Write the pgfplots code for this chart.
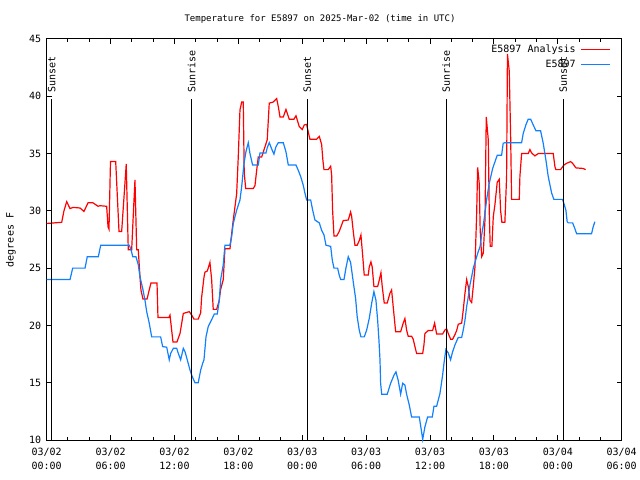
\documentclass[border=0pt]{standalone}
\usepackage{fontspec}
\setmainfont{DejaVu Sans Mono}
\usepackage{pgfplots}
\pgfplotsset{compat=1.18}
\definecolor{anared}{RGB}{255,0,0}
\definecolor{obsblue}{RGB}{16,128,255}

\begin{document}
\fontsize{10bp}{12bp}\selectfont
\begin{tikzpicture}
\useasboundingbox (0,0) rectangle (640bp,480bp);
\begin{axis}[
    at={(46.7bp,40bp)}, anchor=south west,
    scale only axis, width=575bp, height=401bp,
    xmin=0, xmax=54, ymin=10, ymax=45,
    xtick={0,6,...,54},
    minor x tick num=2,
    ytick={10,15,...,45},
    xticklabels={{03/02\\00:00},{03/02\\06:00},{03/02\\12:00},{03/02\\18:00},{03/03\\00:00},{03/03\\06:00},{03/03\\12:00},{03/03\\18:00},{03/04\\00:00},{03/04\\06:00}},
    xticklabel style={align=center, font=\fontsize{10bp}{14bp}\selectfont, yshift=-5bp},
    yticklabel style={font=\fontsize{10bp}{12bp}\selectfont, xshift=-2bp},
    /pgf/number format/assume math mode=true,
    axis line style={line width=1bp, black},
    tick style={line width=1bp, black},
    major tick length=5bp, minor tick length=3bp,
    legend style={draw=none, fill=none, at={(rel axis cs:0.9815,0.99)}, anchor=north east,
        legend cell align=right, font=\fontsize{10bp}{12bp}\selectfont,
        row sep=2bp, column sep=3bp, inner sep=0pt},
    legend plot pos=right,
    legend image code/.code={\draw[#1] (0bp,0bp) -- (29bp,0bp);},
    clip=false,
]
% analysis (red)
\addplot[anared, line width=1.2bp] coordinates {
(0.00,28.9) (1.41,29.0) (1.62,30.0) (1.88,30.8) (2.19,30.2) (2.47,30.3) (3.13,30.25) (3.50,29.95)
(3.88,30.7) (4.35,30.7) (4.82,30.4) (5.00,30.45) (5.63,30.4) (5.76,28.6) (5.85,28.4) (5.99,34.3)
(6.48,34.3) (6.79,28.2) (7.04,28.2) (7.42,33.4) (7.47,34.1) (7.66,26.6) (7.98,26.6) (8.15,30.0)
(8.29,32.7) (8.45,26.6) (8.60,26.6) (8.76,24.25) (8.85,23.1) (9.04,22.3) (9.42,22.3) (9.79,23.7)
(10.36,23.7) (10.45,20.7) (11.48,20.7) (11.58,20.9) (11.86,18.55) (12.23,18.55) (12.52,19.3) (12.83,21.05)
(13.39,21.2) (13.62,20.9) (13.83,20.55) (14.23,20.55) (14.46,21.1) (14.55,22.45) (14.77,24.2) (14.86,24.65)
(15.08,24.75) (15.33,25.5) (15.49,24.0) (15.64,21.4) (15.96,21.4) (16.18,22.1) (16.34,23.15) (16.58,24.0)
(16.74,26.7) (17.21,26.7) (17.37,28.0) (17.52,29.2) (17.84,31.5) (17.99,34.7) (18.15,38.8) (18.31,39.5)
(18.46,39.5) (18.55,33.3) (18.69,31.95) (19.40,31.95) (19.56,32.2) (19.72,33.55) (19.87,34.7) (20.19,34.7)
(20.71,36.2) (20.90,39.4) (21.28,39.5) (21.60,39.8) (21.75,39.1) (21.91,38.2) (22.22,38.2) (22.47,38.85)
(22.78,38.0) (23.22,38.0) (23.41,38.3) (23.72,37.35) (24.00,37.1) (24.19,37.5) (24.41,37.55) (24.56,36.9)
(24.72,36.25) (25.35,36.25) (25.60,36.5) (25.82,35.8) (25.94,34.4) (26.04,33.6) (26.44,33.6) (26.67,33.9)
(26.76,33.1) (26.85,30.05) (26.98,27.8) (27.23,27.8) (27.47,28.2) (27.85,29.15) (28.32,29.2) (28.54,29.9)
(28.64,29.5) (28.79,28.2) (28.95,27.0) (29.16,27.0) (29.35,27.4) (29.51,27.9) (29.67,26.15) (29.82,24.4)
(30.20,24.4) (30.29,25.1) (30.45,25.55) (30.57,25.1) (30.73,23.4) (31.08,23.4) (31.23,23.95) (31.39,24.6)
(31.51,23.4) (31.70,21.95) (31.98,21.95) (32.23,22.8) (32.39,23.1) (32.54,21.65) (32.77,19.45) (33.24,19.45)
(33.48,20.2) (33.64,20.6) (33.80,19.6) (33.95,19.05) (34.27,19.05) (34.42,18.8) (34.58,18.15) (34.74,17.55)
(35.31,17.55) (35.43,18.3) (35.52,19.3) (35.83,19.55) (36.24,19.55) (36.43,20.2) (36.62,19.25) (37.18,19.25)
(37.40,19.6) (37.56,19.7) (37.71,19.3) (37.93,18.8) (38.12,18.8) (38.34,19.2) (38.50,19.55) (38.65,20.1)
(38.97,20.2) (39.12,21.35) (39.28,22.8) (39.44,24.0) (39.59,23.4) (39.75,22.2) (39.91,22.0) (40.06,23.4)
(40.22,25.1) (40.38,29.8) (40.47,33.8) (40.62,32.4) (40.71,28.3) (40.85,26.0) (41.00,26.3) (41.16,29.2)
(41.28,38.2) (41.47,36.2) (41.56,30.0) (41.65,26.9) (41.81,26.9) (41.94,29.5) (42.09,30.5) (42.31,32.5)
(42.50,32.75) (42.63,30.0) (42.75,29.0) (43.03,29.0) (43.19,33.0) (43.27,43.7) (43.44,42.2) (43.57,36.5)
(43.66,31.0) (44.38,31.0) (44.44,33.0) (44.60,35.0) (45.22,35.0) (45.38,35.35) (45.54,35.05) (45.85,34.8)
(46.16,35.0) (47.57,35.0) (47.73,33.85) (47.82,33.6) (48.26,33.6) (48.57,34.0) (48.83,34.15) (49.20,34.3)
(49.39,34.15) (49.70,33.75) (50.38,33.7) (50.61,33.6)
};
\addlegendentry{E5897 Analysis}
% observed (blue)
\addplot[obsblue, line width=1.2bp] coordinates {
(0.00,24.0) (2.19,24.0) (2.44,25.0) (3.60,25.0) (3.81,26.0) (4.85,26.0) (5.07,27.0) (7.76,27.0)
(7.92,26.6) (8.08,26.0) (8.38,26.0) (8.60,25.3) (8.76,24.25) (9.01,23.25) (9.23,22.2) (9.39,21.2)
(9.63,20.2) (9.86,19.0) (10.70,19.0) (10.89,18.15) (11.27,18.1) (11.51,17.0) (11.64,17.55) (11.89,18.0)
(12.21,18.0) (12.36,17.55) (12.58,17.0) (12.83,18.0) (12.99,17.7) (13.20,17.0) (13.46,16.1) (13.62,15.65)
(13.92,15.0) (14.23,15.0) (14.46,16.1) (14.65,16.7) (14.77,17.0) (14.96,19.0) (15.17,19.9) (15.49,20.5)
(15.74,21.0) (16.02,21.0) (16.21,22.2) (16.34,24.0) (16.58,25.3) (16.74,27.0) (17.21,27.0) (17.37,27.75)
(17.52,28.9) (17.84,30.05) (18.15,30.95) (18.31,32.1) (18.53,34.15) (18.71,35.15) (18.93,35.95) (19.09,35.0)
(19.34,34.0) (19.87,34.0) (20.03,35.05) (20.59,35.05) (20.71,35.5) (20.90,35.95) (21.13,35.4) (21.34,34.95)
(21.53,35.6) (21.75,35.95) (22.22,35.95) (22.47,35.15) (22.69,34.0) (23.41,34.0) (23.62,33.55) (23.85,33.0)
(24.09,32.25) (24.25,31.55) (24.41,30.95) (24.79,30.95) (24.97,30.1) (25.19,29.2) (25.60,28.95) (25.82,28.3)
(26.04,27.9) (26.23,27.0) (26.67,26.9) (26.82,25.7) (26.98,25.0) (27.32,25.0) (27.47,24.4) (27.61,24.0)
(27.92,24.0) (28.10,25.0) (28.32,26.0) (28.54,25.5) (28.79,23.8) (29.01,22.35) (29.16,20.75) (29.35,19.6)
(29.51,19.0) (29.82,19.0) (30.05,19.6) (30.29,20.6) (30.52,21.95) (30.73,22.95) (30.92,22.2) (31.08,20.45)
(31.20,18.75) (31.30,17.0) (31.36,14.95) (31.46,14.0) (31.98,14.0) (32.30,14.95) (32.61,15.65) (32.80,15.95)
(33.01,15.2) (33.24,14.0) (33.43,14.95) (33.64,14.8) (33.80,14.0) (34.05,13.05) (34.27,12.0) (34.99,12.0)
(35.21,10.7) (35.31,10.05) (35.52,11.15) (35.77,12.0) (36.21,12.0) (36.37,12.95) (36.62,12.95) (36.93,14.05)
(37.18,15.65) (37.31,16.7) (37.49,17.9) (37.71,17.6) (37.93,17.0) (38.12,17.7) (38.34,18.3) (38.65,18.95)
(38.97,18.95) (39.12,19.6) (39.28,20.45) (39.44,21.65) (39.59,22.5) (39.75,23.55) (39.91,24.25) (40.06,25.0)
(40.38,26.0) (40.53,26.45) (40.69,26.85) (40.85,27.9) (41.00,28.75) (41.16,29.8) (41.31,30.95) (41.56,32.4)
(41.88,33.7) (42.31,34.85) (42.72,34.85) (42.87,35.9) (43.03,35.95) (44.60,35.95) (44.75,36.75) (45.00,37.5)
(45.22,38.0) (45.45,38.0) (45.69,37.5) (45.94,37.0) (46.38,37.0) (46.63,35.9) (46.88,34.45) (47.10,33.0)
(47.42,31.55) (47.63,31.0) (48.45,31.0) (48.57,30.65) (48.76,30.05) (48.88,29.05) (48.98,28.95) (49.39,28.95)
(49.58,28.5) (49.77,28.0) (51.17,28.0) (51.32,28.6) (51.48,29.05)
};
\addlegendentry{E5897}
% sunrise / sunset markers
\addplot[black, line width=1.2bp, forget plot] coordinates {(0.47,10) (0.47,39.8)};
\addplot[black, line width=1.2bp, forget plot] coordinates {(13.62,10) (13.62,39.8)};
\addplot[black, line width=1.2bp, forget plot] coordinates {(24.47,10) (24.47,39.8)};
\addplot[black, line width=1.2bp, forget plot] coordinates {(37.52,10) (37.52,39.8)};
\addplot[black, line width=1.2bp, forget plot] coordinates {(48.51,10) (48.51,39.8)};
\node[rotate=90, anchor=west, inner sep=0pt] at (axis cs:0.47,40.3) {Sunset};
\node[rotate=90, anchor=west, inner sep=0pt] at (axis cs:13.62,40.3) {Sunrise};
\node[rotate=90, anchor=west, inner sep=0pt] at (axis cs:24.47,40.3) {Sunset};
\node[rotate=90, anchor=west, inner sep=0pt] at (axis cs:37.52,40.3) {Sunrise};
\node[rotate=90, anchor=west, inner sep=0pt] at (axis cs:48.51,40.3) {Sunset};
\end{axis}
\node[font=\fontsize{9bp}{11bp}\selectfont] at (320bp,461bp) {Temperature for E5897 on 2025-Mar-02 (time in UTC)};
\node[rotate=90] at (11bp,240bp) {degrees F};
\end{tikzpicture}
\end{document}
